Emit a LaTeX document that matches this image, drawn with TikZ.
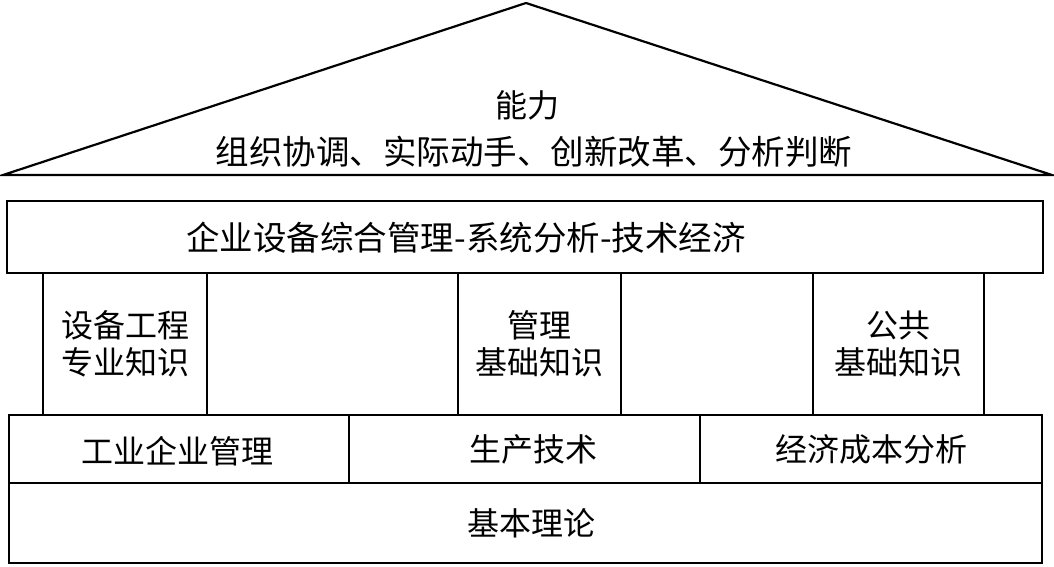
\documentclass[tikz,border=0pt]{standalone}
\usepackage{fontspec}
\setmainfont{Noto Sans CJK SC}
\begin{document}
\begin{tikzpicture}[x=1pt,y=-1pt,
  box/.style={draw, line width=1.7pt, inner sep=0pt, anchor=center},
  lbl/.style={font=\fontsize{32}{37}\selectfont, align=center, inner sep=0pt},
  biglbl/.style={font=\fontsize{33.5}{37}\selectfont, align=center, inner sep=0pt}]
\useasboundingbox (0,0) rectangle (1054,566);
% roof
\coordinate (apex) at (526,3);
\coordinate (eL) at (3,175);
\coordinate (eR) at (1052,175);
\draw[line width=2.2pt, line join=miter] (eL) -- (apex) -- (eR) -- cycle;
\node[lbl] (cap) at (527,105) {能力};
\node[biglbl] (abil) at (534,152) {组织协调、实际动手、创新改革、分析判断};
% beam
\node[box, minimum width=1036pt, minimum height=72pt] (beam) at (525,237) {};
\node[biglbl] (beamtxt) at (466,238) {企业设备综合管理-系统分析-技术经济};
% pillars
\node[box, minimum width=164pt, minimum height=142pt] (p1) at (125,344) {};
\node[box, minimum width=163pt, minimum height=142pt] (p2) at (539.5,344) {};
\node[box, minimum width=171pt, minimum height=142pt] (p3) at (898.5,344) {};
\node[lbl] (p1t) at (p1) {设备工程\\专业知识};
\node[lbl] (p2t) at (p2) {管理\\基础知识};
\node[lbl] (p3t) at (p3) {公共\\基础知识};
% middle row
\node[box, minimum width=340pt, minimum height=68pt] (c1) at (179,449) {};
\node[box, minimum width=351pt, minimum height=68pt] (c2) at (524.5,449) {};
\node[box, minimum width=342pt, minimum height=68pt] (c3) at (871,449) {};
\node[lbl] (c1t) at (177,451) {工业企业管理};
\node[lbl] (c2t) at (533,449) {生产技术};
\node[lbl] (c3t) at (871,449) {经济成本分析};
% base
\node[box, minimum width=1033pt, minimum height=80pt] (base) at (525.5,523) {};
\node[lbl] (baset) at (531,523) {基本理论};
\end{tikzpicture}
\end{document}
